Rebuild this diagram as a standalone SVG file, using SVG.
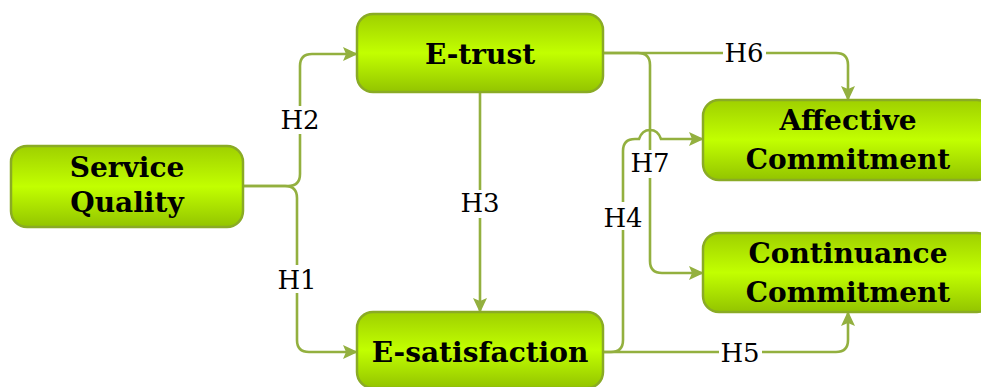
<svg xmlns="http://www.w3.org/2000/svg" width="981" height="387" viewBox="0 0 981 387">
<defs>
<linearGradient id="g" x1="0" y1="0" x2="0" y2="1">
<stop offset="0" stop-color="#9fd000"/>
<stop offset="0.5" stop-color="#c2ff00"/>
<stop offset="1" stop-color="#93c400"/>
</linearGradient>
<marker id="ah" markerUnits="userSpaceOnUse" markerWidth="16" markerHeight="14" refX="14" refY="7" orient="auto">
<path d="M0,0 L15,7 L0,14 L3,7 z" fill="#93b03f"/>
</marker>
<style>
.box{fill:url(#g);stroke:#8aab25;stroke-width:2.5}
.nt{font-family:"DejaVu Serif","Liberation Serif",serif;font-weight:bold;font-size:28px;fill:#000;text-anchor:middle}
.c{fill:none;stroke:#93b03f;stroke-width:2.6;marker-end:url(#ah)}
.cn{fill:none;stroke:#93b03f;stroke-width:2.6}
.lb{font-family:"DejaVu Serif","Liberation Serif",serif;font-size:26px;fill:#000;text-anchor:middle}
.bg{fill:#fff}
</style>
</defs>
<g id="connectors">
<path class="c" d="M243,186 H288 Q300,186 300,174 V66 Q300,54 312,54 H357"/>
<path class="c" d="M243,186 H285 Q297,186 297,198 V340 Q297,352 309,352 H357"/>
<path class="c" d="M480,92 V312"/>
<path class="c" d="M603,53 H836 Q848,53 848,65 V100"/>
<path class="c" d="M603,53 H638 Q650,53 650,65 V261 Q650,273 662,273 H703"/>
<path class="c" d="M603,352 H611 Q623,352 623,340 V151 Q623,139 635,139 H639 C643,127 657,127 661,139 H703"/>
<path class="c" d="M603,352 H836 Q848,352 848,340 V312"/>
<rect class="bg" x="280" y="106" width="40" height="28"/>
<text class="lb" x="300" y="129">H2</text>
<rect class="bg" x="277" y="265" width="40" height="28"/>
<text class="lb" x="297" y="289">H1</text>
<rect class="bg" x="460" y="190" width="40" height="28"/>
<text class="lb" x="480" y="212">H3</text>
<rect class="bg" x="723" y="40" width="43" height="28"/>
<text class="lb" x="744" y="62">H6</text>
<rect class="bg" x="630" y="150" width="40" height="28"/>
<text class="lb" x="650" y="172">H7</text>
<rect class="bg" x="603" y="202" width="40" height="28"/>
<text class="lb" x="623" y="227">H4</text>
<rect class="bg" x="719" y="338" width="43" height="28"/>
<text class="lb" x="740" y="362">H5</text>
</g>
<g id="service-quality">
<rect class="box" x="11" y="146" width="232" height="81" rx="16"/>
<text class="nt" x="127" y="177">Service</text>
<text class="nt" x="127" y="212">Quality</text>
</g>
<g id="e-trust">
<rect class="box" x="357" y="14" width="246" height="78" rx="16"/>
<text class="nt" x="480" y="64">E-trust</text>
</g>
<g id="e-satisfaction">
<rect class="box" x="357" y="312" width="246" height="76" rx="16"/>
<text class="nt" x="480" y="362">E-satisfaction</text>
</g>
<g id="affective-commitment">
<rect class="box" x="703" y="100" width="290" height="80" rx="16"/>
<text class="nt" x="848" y="130">Affective</text>
<text class="nt" x="848" y="169">Commitment</text>
</g>
<g id="continuance-commitment">
<rect class="box" x="703" y="233" width="290" height="79" rx="16"/>
<text class="nt" x="848" y="263">Continuance</text>
<text class="nt" x="848" y="302">Commitment</text>
</g>
</svg>
